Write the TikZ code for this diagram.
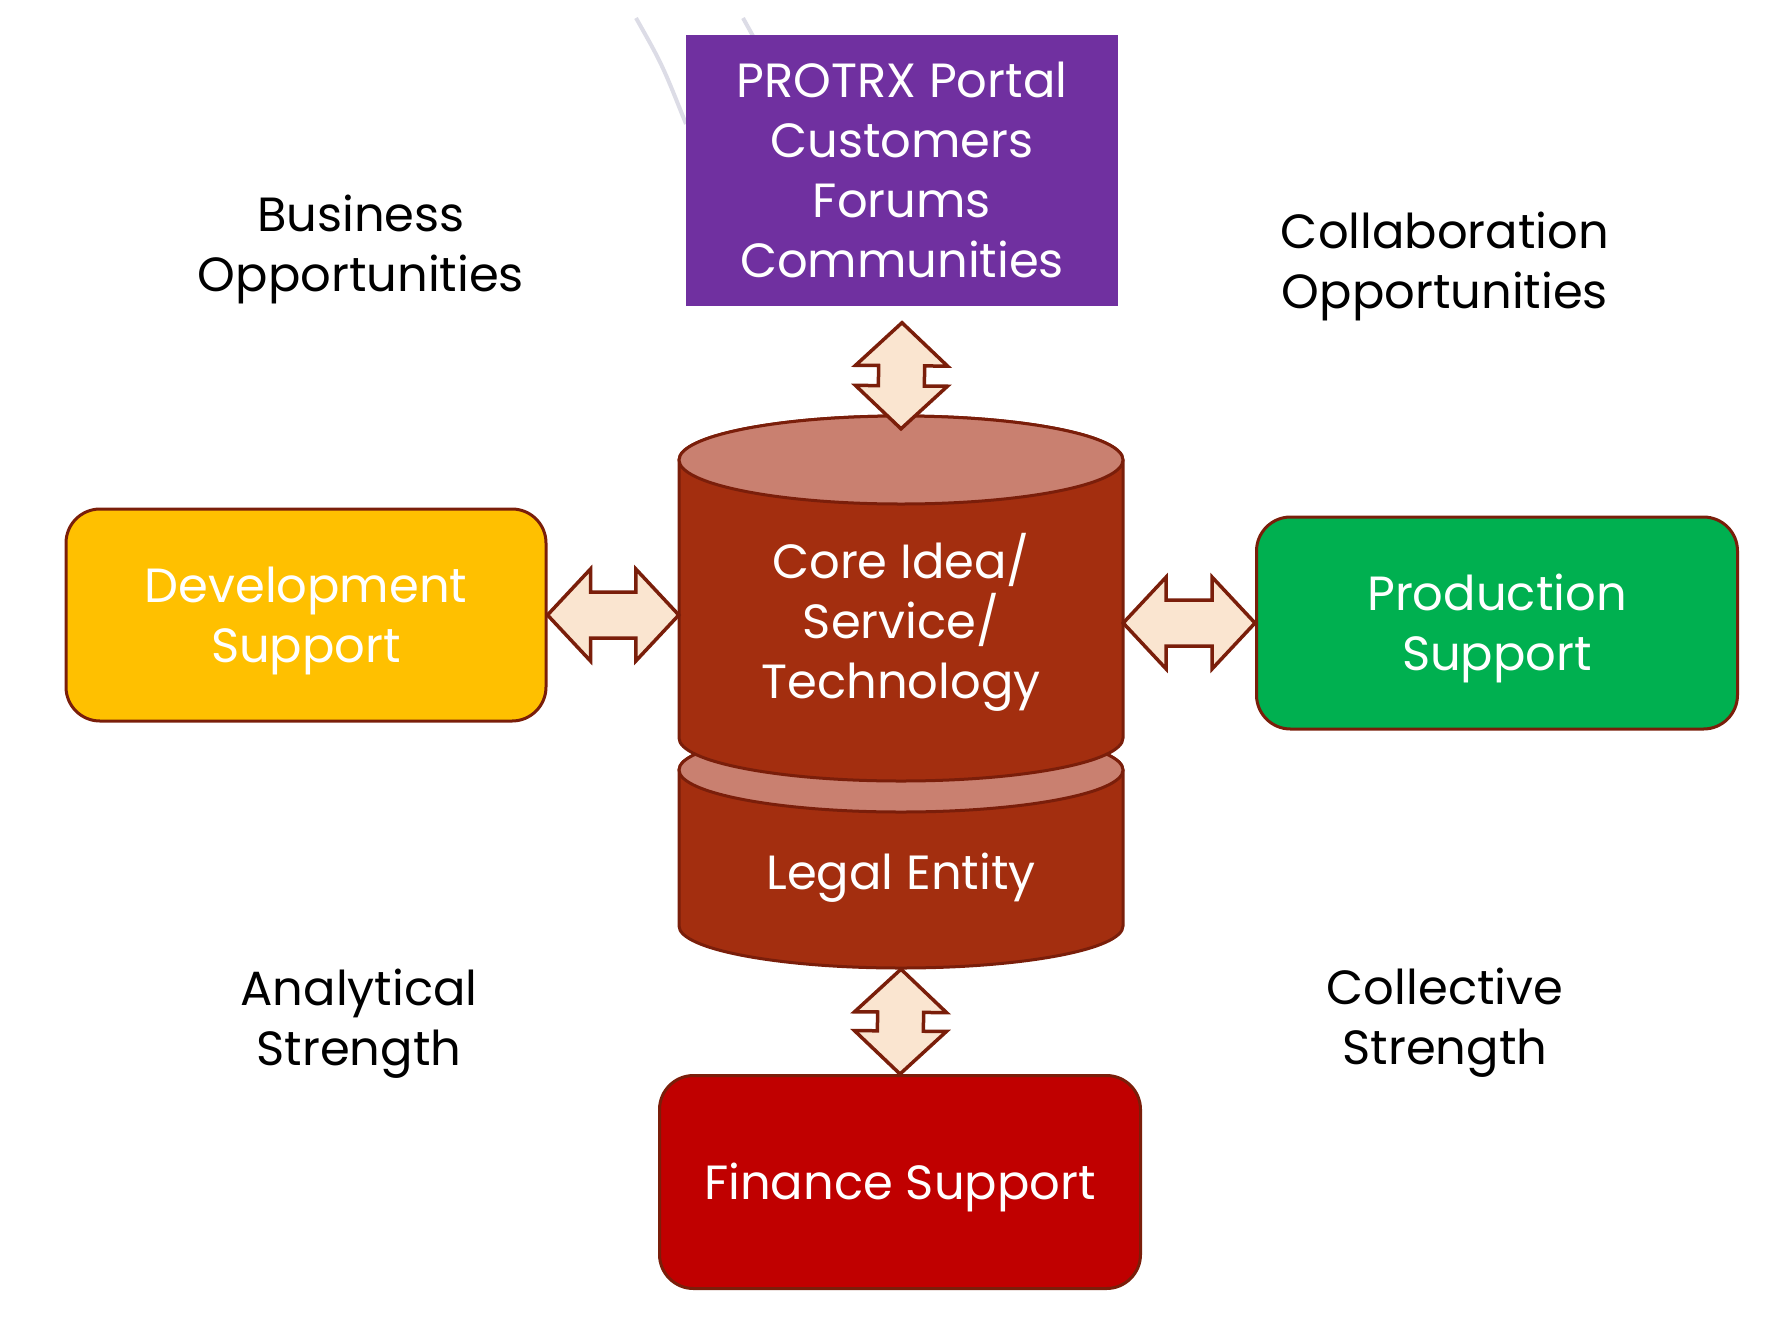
\documentclass[tikz,border=0pt]{standalone}
\usepackage{fontspec}
\setmainfont{Poppins}
\usetikzlibrary{calc}

\definecolor{portalpurple}{HTML}{7030A0}
\definecolor{devyellow}{HTML}{FFC000}
\definecolor{prodgreen}{HTML}{00B050}
\definecolor{finred}{HTML}{C00000}
\definecolor{corebrown}{HTML}{A32E0F}
\definecolor{coretop}{HTML}{C98070}
\definecolor{edgemaroon}{HTML}{7A1E0A}
\definecolor{arrowpeach}{HTML}{FAE5D0}
\definecolor{strayline}{HTML}{DCDCE6}

\newcommand{\topstrut}{\rule{0pt}{47pt}}
\newcommand{\headlen}{43pt}
\newcommand{\headhalf}{46pt}
\newcommand{\shafthalf}{23pt}
% block double arrow between two points
\newcommand{\blockarrow}[2]{%
  \draw[dblarr] (#1)
    -- ($(#1)!\headlen!(#2)!\headhalf!90:(#2)$)
    -- ($(#1)!\headlen!(#2)!\shafthalf!90:(#2)$)
    -- ($(#2)!\headlen!(#1)!\shafthalf!-90:(#1)$)
    -- ($(#2)!\headlen!(#1)!\headhalf!-90:(#1)$)
    -- (#2)
    -- ($(#2)!\headlen!(#1)!\headhalf!90:(#1)$)
    -- ($(#2)!\headlen!(#1)!\shafthalf!90:(#1)$)
    -- ($(#1)!\headlen!(#2)!\shafthalf!-90:(#2)$)
    -- ($(#1)!\headlen!(#2)!\headhalf!-90:(#2)$)
    -- cycle;}

\begin{document}
\begin{tikzpicture}[
  x=1pt, y=-1pt,
  font=\fontsize{48pt}{60pt}\selectfont,
  box/.style    ={rectangle, rounded corners=34pt, draw=edgemaroon, line width=3pt,
                  text=white, align=center, inner sep=0pt},
  portalbox/.style={rectangle, fill=portalpurple, text=white, align=center, inner sep=0pt,
                  minimum width=432pt, minimum height=271pt},
  cylarea/.style={rectangle, text=white, align=center, inner sep=0pt, minimum width=444pt},
  cylbody/.style={fill=corebrown, draw=edgemaroon, line width=3pt},
  cyltop/.style ={fill=coretop, draw=edgemaroon, line width=3pt},
  dblarr/.style ={fill=arrowpeach, draw=edgemaroon, line width=3.5pt, line join=miter},
  note/.style   ={align=center, text=black},
  stray/.style  ={draw=strayline, line width=4pt},
]
\useasboundingbox (0,0) rectangle (1781,1326);

% --- faint stray strokes ---
\draw[stray] (636,18) .. controls (662,64) .. (686,124);
\draw[stray] (743,18) -- (753,36);

% --- cylinders (lower first) ---
\draw[cylbody] (679,770) -- (679,926)
  arc[start angle=180, end angle=360, x radius=222pt, y radius=42pt]
  -- (1123,770)
  arc[start angle=0, end angle=180, x radius=222pt, y radius=42pt] -- cycle;
\draw[cyltop] (901,770) ellipse[x radius=222pt, y radius=42pt];

\draw[cylbody] (679,460) -- (679,738)
  arc[start angle=180, end angle=360, x radius=222pt, y radius=43pt]
  -- (1123,460)
  arc[start angle=0, end angle=180, x radius=222pt, y radius=44pt] -- cycle;
\draw[cyltop] (901,460) ellipse[x radius=222pt, y radius=44pt];

% --- nodes ---
\node[portalbox] (portal) at (902,170) {PROTRX Portal\\Customers\\Forums\\Communities};
\node[cylarea, minimum height=384pt] (core) at (901,621) {\topstrut Core Idea/\\Service/\\Technology};
\node[cylarea, minimum height=194pt] (legal) at (901,872) {\topstrut Legal Entity};

\node[box, fill=devyellow,  minimum width=480pt, minimum height=212pt] (dev)  at (306,615)  {\topstrut Development\\Support};
\node[box, fill=prodgreen,  minimum width=481pt, minimum height=212pt] (prod) at (1497,623) {\topstrut Production\\Support};
\node[box, fill=finred,     minimum width=481pt, minimum height=213pt] (fin)  at (900,1182) {\topstrut Finance Support};

% --- corner notes ---
\node[note] (bizopp)  at (361,244)  {\topstrut Business\\Opportunities};
\node[note] (collopp) at (1445,261) {\topstrut Collaboration\\Opportunities};
\node[note] (anastr)  at (359,1018) {\topstrut Analytical\\Strength};
\node[note] (colstr)  at (1445,1017) {\topstrut Collective\\Strength};

% --- arrows ---
\coordinate (portaltip) at ($(portal.south)+(0,17)$);
\coordinate (coreL) at (dev.east -| core.west);
\coordinate (coreR) at (prod.west -| core.east);
\blockarrow{portaltip}{core.north}
\blockarrow{dev.east}{coreL}
\blockarrow{coreR}{prod.west}
\blockarrow{legal.south}{fin.north}
\end{tikzpicture}
\end{document}
